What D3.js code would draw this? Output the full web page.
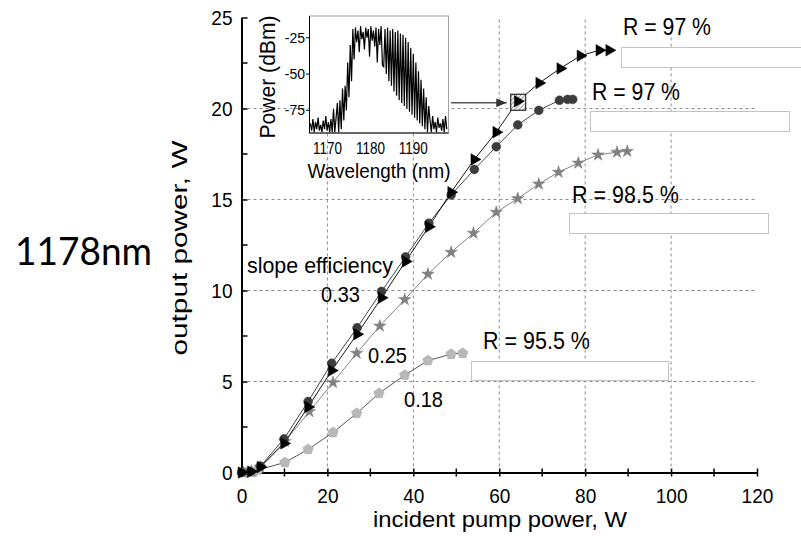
<!DOCTYPE html>
<html>
<head>
<meta charset="utf-8">
<title>1178nm output power</title>
<script src="https://d3js.org/d3.v7.min.js"></script>
<style>
  body { margin: 0; background: #fff; }
  svg { font-family: "Liberation Sans", Arial, sans-serif; }
  .grid line { stroke: #8c8c8c; stroke-dasharray: 3,3; stroke-width: 1; }
  .axis path, .axis line { stroke: #000; }
  .axis text { fill: #000; }
</style>
</head>
<body>
<svg width="801" height="553"></svg>
<script>
// ---- data ----
const xTicks = [0, 20, 40, 60, 80, 100, 120];
const xMinor = [10, 30, 50, 70, 90, 110];
const yTicks = [0, 5, 10, 15, 20, 25];
const yMinor = [2.5, 7.5, 12.5, 17.5, 22.5];

const triangles = [[0,0],[2.2,0.05],[4.4,0.3],[9.9,1.6],[15.5,3.6],[21,5.6],[26.9,7.6],[32.6,9.6],[38.2,11.6],
  [43.6,13.5],[48.8,15.4],[54.2,17.2],[59.3,18.7],[64.3,20.4],[69.3,21.4],[74.2,22.2],[78.9,22.9],[83.3,23.2],[85.6,23.2]];
const circles = [[0,0],[2,0.05],[4.4,0.35],[9.9,1.85],[15.5,3.9],[21,6.0],[26.9,7.95],[32.6,9.95],[38.2,11.85],
  [43.6,13.7],[48.8,15.25],[54.2,16.65],[59.3,17.9],[64.3,19.1],[69.2,19.9],[74,20.45],[75.9,20.5],[77.1,20.5]];
const stars = [[0.5,0],[2.3,0.08],[4.3,0.3],[10.1,1.7],[15.8,3.35],[21.3,4.95],[26.8,6.55],[32.2,8.05],[38,9.5],
  [43.4,10.9],[48.8,12.1],[54,13.15],[59.3,14.3],[64.3,15.05],[69.2,15.85],[73.8,16.5],[78.4,17.0],[83,17.45],[87.4,17.6],[89.8,17.65]];
const pentagons = [[1,0],[2.8,0.02],[3.9,0.15],[10.1,0.55],[15.5,1.27],[21.3,2.2],[26.8,3.25],[32,4.35],[38,5.35],
  [43.4,6.15],[48.8,6.5],[51.5,6.55]];

const reflLabels = ["R = 97 %", "R = 97 %", "R = 98.5 %", "R = 95.5 %"];
const slopeLabels = ["0.33", "0.25", "0.18"];

// inset spectrum, sampled every 0.3 nm from 1166 nm
const specStart = 1166, specStep = 0.3;
const specDbm = [
  -84,-89,-81,-90,-83,-88,-80,-89,-85,-90,-82,-88,-79,-89,-83,-90,-81,
  -90,-74,-90,-80,-70,-90,-68,
  -88,-60,-82,-58,-75,-42,-66,-30,-55,
  -19,-40,-18,-28,-20,-35,-17,-26,-21,-33,-18,-25,-19,-38,-17,-27,-20,-31,-18,-42,-19,-30,-17,-44,
  -45,-19,-50,-18,-55,-20,-58,-19,-62,-21,-65,-20,-68,-22,-70,-23,-72,-25,-74,-28,-76,-32,-78,-36,
  -80,-42,-82,-48,-84,-54,-86,-60,-88,-66,-90,-72,
  -82,-90,-79,-88,-83,-90,-80,-87,-84,-89,-81,-90,-79,-88
];
const insetXTicks = [1170, 1180, 1190];
const insetYTicks = [-25, -50, -75];

// ---- scales ----
const svg = d3.select("svg");
const x = d3.scaleLinear().domain([0, 120]).range([241.5, 757]);
const y = d3.scaleLinear().domain([0, 25]).range([472.5, 17.5]);

// helper: text squeezed to the width measured in the picture
function label(px, py, str, size, len, anchor) {
  const t = svg.append("text").attr("x", px).attr("y", py)
    .style("font-size", size + "px").attr("text-anchor", anchor || "start").text(str);
  if (len) t.attr("textLength", len).attr("lengthAdjust", "spacingAndGlyphs");
  return t;
}

// grid
const grid = svg.append("g").attr("class", "grid");
grid.selectAll(".vx").data([20, 40, 60, 80, 100]).enter().append("line")
  .attr("x1", d => x(d)).attr("x2", d => x(d))
  .attr("y1", y(0)).attr("y2", y(25));
grid.selectAll(".hy").data([5, 10, 15, 20]).enter().append("line")
  .attr("x1", x(0)).attr("x2", x(120))
  .attr("y1", d => y(d)).attr("y2", d => y(d));

// ---- inset ----
const ix = d3.scaleLinear().domain([1165.8, 1198.2]).range([309.5, 448.5]);
const iy = d3.scaleLinear().domain([-90.6, -10]).range([133, 16]);
const defs = svg.append("defs");
defs.append("clipPath").attr("id", "insetClip")
  .append("rect").attr("x", 309.5).attr("y", 16).attr("width", 139).attr("height", 117);

svg.append("rect")
  .attr("x", 309.5).attr("y", 16).attr("width", 139).attr("height", 117)
  .attr("fill", "#fff").attr("stroke", "#a0a0a0");

svg.append("path")
  .datum(specDbm)
  .attr("clip-path", "url(#insetClip)")
  .attr("fill", "none").attr("stroke", "#000").attr("stroke-width", 1.2)
  .attr("d", d3.line().x((d, i) => ix(specStart + i * specStep)).y(d => iy(d)));

svg.append("line").attr("x1", 309.5).attr("x2", 309.5).attr("y1", 16).attr("y2", 133).attr("stroke", "#000");
svg.append("line").attr("x1", 309.5).attr("x2", 448.5).attr("y1", 133).attr("y2", 133).attr("stroke", "#000");

svg.selectAll(".iyt").data(insetYTicks).enter().append("line")
  .attr("x1", 306).attr("x2", 309.5).attr("y1", d => iy(d)).attr("y2", d => iy(d)).attr("stroke", "#000");
svg.selectAll(".iyl").data(insetYTicks).enter().append("text")
  .attr("x", 305).attr("y", d => iy(d) + 5)
  .attr("text-anchor", "end").style("font-size", "14px").text(d => d);
svg.selectAll(".ixl").data(insetXTicks).enter().append("text")
  .attr("x", d => ix(d)).attr("y", 154)
  .attr("text-anchor", "middle").style("font-size", "17px")
  .attr("textLength", 29).attr("lengthAdjust", "spacingAndGlyphs").text(d => d);
label(379, 178, "Wavelength (nm)", 21, 143, "middle");
label(0, 0, "Power (dBm)", 22, 123, "middle").attr("transform", "translate(275,77) rotate(-90)");

// ---- main axes ----
const xAxis = svg.append("g").attr("class", "axis")
  .attr("transform", `translate(0,${y(0)})`)
  .call(d3.axisBottom(x).tickValues(xTicks).tickSizeOuter(0).tickPadding(0));
xAxis.select(".domain").attr("stroke-width", 2);
xAxis.selectAll(".tick line").attr("y1", -4).attr("y2", 4).attr("stroke-width", 1.5);
xAxis.selectAll(".tick text").attr("y", 16).style("font-size", "21px").style("font-family", "Liberation Sans, Arial")
  .attr("textLength", d => String(d).length * 10.6).attr("lengthAdjust", "spacingAndGlyphs");
svg.selectAll(".xminor").data(xMinor).enter().append("line")
  .attr("x1", d => x(d)).attr("x2", d => x(d))
  .attr("y1", y(0) - 4).attr("y2", y(0) + 4).attr("stroke", "#000").attr("stroke-width", 1.5);

const yAxis = svg.append("g").attr("class", "axis")
  .attr("transform", `translate(${x(0)},0)`)
  .call(d3.axisLeft(y).tickValues(yTicks).tickSizeInner(-6).tickSizeOuter(0).tickPadding(9));
yAxis.select(".domain").attr("stroke-width", 2);
yAxis.selectAll(".tick line").attr("stroke-width", 1.5);
yAxis.selectAll(".tick text").style("font-size", "21px").style("font-family", "Liberation Sans, Arial")
  .attr("textLength", d => String(d).length * 10.6).attr("lengthAdjust", "spacingAndGlyphs");
svg.selectAll(".yminor").data(yMinor).enter().append("line")
  .attr("x1", x(0)).attr("x2", x(0) + 6)
  .attr("y1", d => y(d)).attr("y2", d => y(d)).attr("stroke", "#000").attr("stroke-width", 1.5);

label(500, 527, "incident pump power, W", 22, 254, "middle");
label(0, 0, "output power, W", 22, 215, "middle").attr("transform", "translate(187,248) rotate(-90)");

// ---- series ----
const line = d3.line().x(d => x(d[0])).y(d => y(d[1]));
const pentagon = (r) => {
  const pts = d3.range(5).map(k => {
    const a = -Math.PI / 2 + k * 2 * Math.PI / 5;
    return [r * Math.cos(a), r * Math.sin(a)];
  });
  return "M" + pts.join("L") + "Z";
};

const series = [
  { data: pentagons, stroke: "#444", fill: "#b8b8b8", edge: "#a8a8a8", shape: pentagon(5.5), rot: 0 },
  { data: stars, stroke: "#777", fill: "#808080", edge: "#808080", shape: d3.symbol(d3.symbolStar, 48)(), rot: 0 },
  { data: circles, stroke: "#333", fill: "#3c3c3c", edge: "#3c3c3c", shape: d3.symbol(d3.symbolCircle, 62)(), rot: 0 },
  { data: triangles, stroke: "#000", fill: "#000", edge: "#000", shape: d3.symbol(d3.symbolTriangle, 58)(), rot: 90 }
];

// hatched box around the spectrum point
const pat = defs.append("pattern").attr("id", "hatch")
  .attr("patternUnits", "userSpaceOnUse").attr("width", 3).attr("height", 3)
  .attr("patternTransform", "rotate(45)");
pat.append("rect").attr("width", 3).attr("height", 3).attr("fill", "#fff");
pat.append("line").attr("x1", 0).attr("y1", 0).attr("x2", 0).attr("y2", 3).attr("stroke", "#555").attr("stroke-width", 1.2);

series.forEach(s => {
  svg.append("path").datum(s.data)
    .attr("fill", "none").attr("stroke", s.stroke).attr("stroke-width", 0.9)
    .attr("d", line);
});

const boxed = triangles[13];
svg.append("rect")
  .attr("x", x(boxed[0]) - 7).attr("y", y(boxed[1]) - 7)
  .attr("width", 15).attr("height", 16)
  .attr("fill", "url(#hatch)").attr("stroke", "#000").attr("stroke-width", 1);

series.forEach(s => {
  svg.append("g").selectAll("path").data(s.data).enter().append("path")
    .attr("d", s.shape)
    .attr("transform", d => `translate(${x(d[0])},${y(d[1])}) rotate(${s.rot})`)
    .attr("fill", s.fill)
    .attr("stroke", s.edge).attr("stroke-width", 0.5);
});

// arrow from the inset to the boxed point
defs.append("marker").attr("id", "arrow")
  .attr("viewBox", "0 0 10 10").attr("refX", 10).attr("refY", 5)
  .attr("markerWidth", 7).attr("markerHeight", 7).attr("orient", "auto")
  .append("path").attr("d", "M0,1L10,5L0,9Z").attr("fill", "#333");
svg.append("line")
  .attr("x1", 451).attr("x2", x(boxed[0]) - 11)
  .attr("y1", y(boxed[1]) + 1.5).attr("y2", y(boxed[1]) + 1.5)
  .attr("stroke", "#555").attr("stroke-width", 1.5).attr("marker-end", "url(#arrow)");

// ---- reflectivity labels and the blank boxes under them ----
const labelPos = [[623, 35], [592, 100], [572, 203], [483, 349]];
const labelLen = [88, 88, 107, 107];
const boxPos = [[621, 47, 182, 20], [590, 111, 199, 20], [569, 213, 199, 20], [471, 361, 197, 19]];
svg.selectAll(".rbox").data(boxPos).enter().append("rect")
  .attr("x", d => d[0] + 0.5).attr("y", d => d[1] + 0.5)
  .attr("width", d => d[2]).attr("height", d => d[3])
  .attr("fill", "#fff").attr("stroke", "#c4c4c4");
reflLabels.forEach((d, i) => label(labelPos[i][0], labelPos[i][1], d, 23, labelLen[i]));

// slope efficiency annotations
label(247, 273, "slope efficiency", 22, 146);
const slopePos = [[321, 302], [368, 363], [404, 407]];
slopeLabels.forEach((d, i) => label(slopePos[i][0], slopePos[i][1], d, 22, 39));

// wavelength tag at left
label(15, 265, "1178nm", 38, 137).style("font-family", "Lato, 'Open Sans', sans-serif");
</script>
</body>
</html>
